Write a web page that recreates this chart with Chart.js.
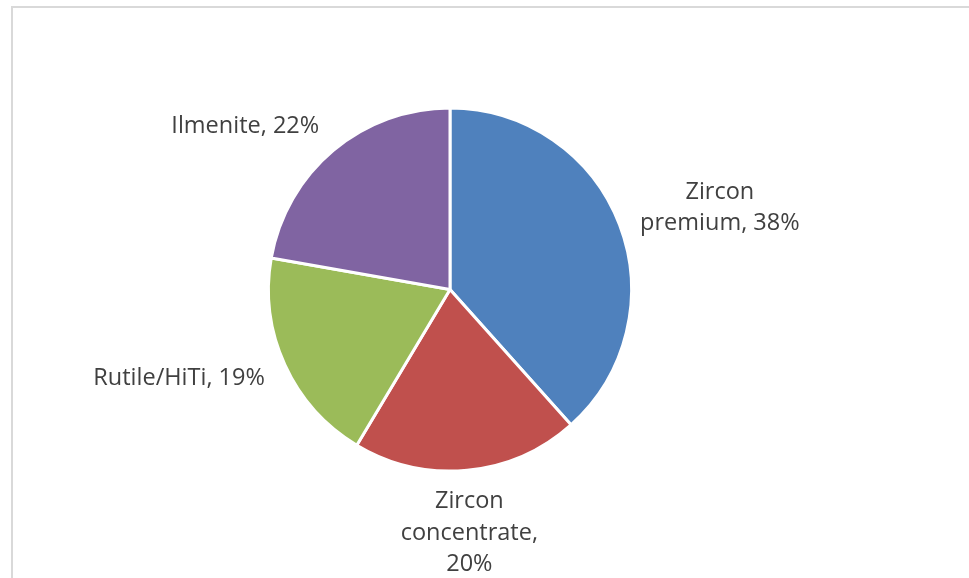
<!DOCTYPE html>
<html>
<head>
<meta charset="utf-8">
<script src="https://cdn.jsdelivr.net/npm/chart.js@4.4.1/dist/chart.umd.min.js"></script>
<style>
  html, body { margin: 0; padding: 0; background: #fff; overflow: hidden; }
  #wrap { position: relative; width: 969px; height: 578px; }
  #frame {
    position: absolute; left: 11px; top: 6px; width: 1000px; height: 600px;
    border-top: 2px solid #d9d9d9; border-left: 2px solid #d9d9d9;
    box-sizing: border-box;
  }
  canvas { position: absolute; left: 0; top: 0; }
</style>
</head>
<body>
<div id="wrap">
  <div id="frame"></div>
  <canvas id="chart" width="969" height="578"></canvas>
</div>
<script>
const categories = ['Zircon premium', 'Zircon concentrate', 'Rutile/HiTi', 'Ilmenite'];
const shares = [38, 20, 19, 22];
const sliceColors = ['#4f81bd', '#c0504d', '#9bbb59', '#8064a2'];
// label text as lines, wrapped the same way the office chart does
const labelLines = [
  ['Zircon', 'premium, 38%'],
  ['Zircon', 'concentrate,', '20%'],
  ['Rutile/HiTi, 19%'],
  ['Ilmenite, 22%']
];

const FONT = '23.5px "Open Sans", sans-serif';
const LINE_H = 31.5;
const GAP_X = 22;
const GAP_Y = 16;

// outside-end labels, placed from each arc's mid angle
const outsideLabels = {
  id: 'outsideLabels',
  afterDatasetsDraw(chart) {
    const ctx = chart.ctx;
    const arcs = chart.getDatasetMeta(0).data;
    ctx.save();
    ctx.font = FONT;
    ctx.fillStyle = '#404040';
    ctx.textAlign = 'center';
    ctx.textBaseline = 'middle';
    arcs.forEach((arc, i) => {
      const mid = (arc.startAngle + arc.endAngle) / 2;
      const dx = Math.cos(mid), dy = Math.sin(mid);
      const ax = arc.x + dx * (arc.outerRadius + GAP_X);
      const ay = arc.y + dy * (arc.outerRadius + GAP_Y);
      const lines = labelLines[i];
      const w = Math.max(...lines.map(t => ctx.measureText(t).width));
      const h = lines.length * LINE_H;

      // block centre; text lines are centred inside the block
      let cx = ax;
      if (dx > 0.3) cx = ax + w / 2;
      else if (dx < -0.3) cx = ax - w / 2;
      const top = ay - h / 2 + dy * h / 2;

      lines.forEach((t, k) => {
        ctx.fillText(t, cx, top + LINE_H * (k + 0.5));
      });
    });
    ctx.restore();
  }
};

new Chart(document.getElementById('chart'), {
  type: 'pie',
  data: {
    labels: categories,
    datasets: [{
      data: shares,
      backgroundColor: sliceColors,
      borderColor: '#ffffff',
      borderWidth: 3
    }]
  },
  options: {
    responsive: false,
    animation: false,
    layout: {
      padding: { left: 267, right: 336, top: 106, bottom: 105 }
    },
    plugins: {
      legend: { display: false },
      tooltip: { enabled: false }
    }
  },
  plugins: [outsideLabels]
});
</script>
</body>
</html>
